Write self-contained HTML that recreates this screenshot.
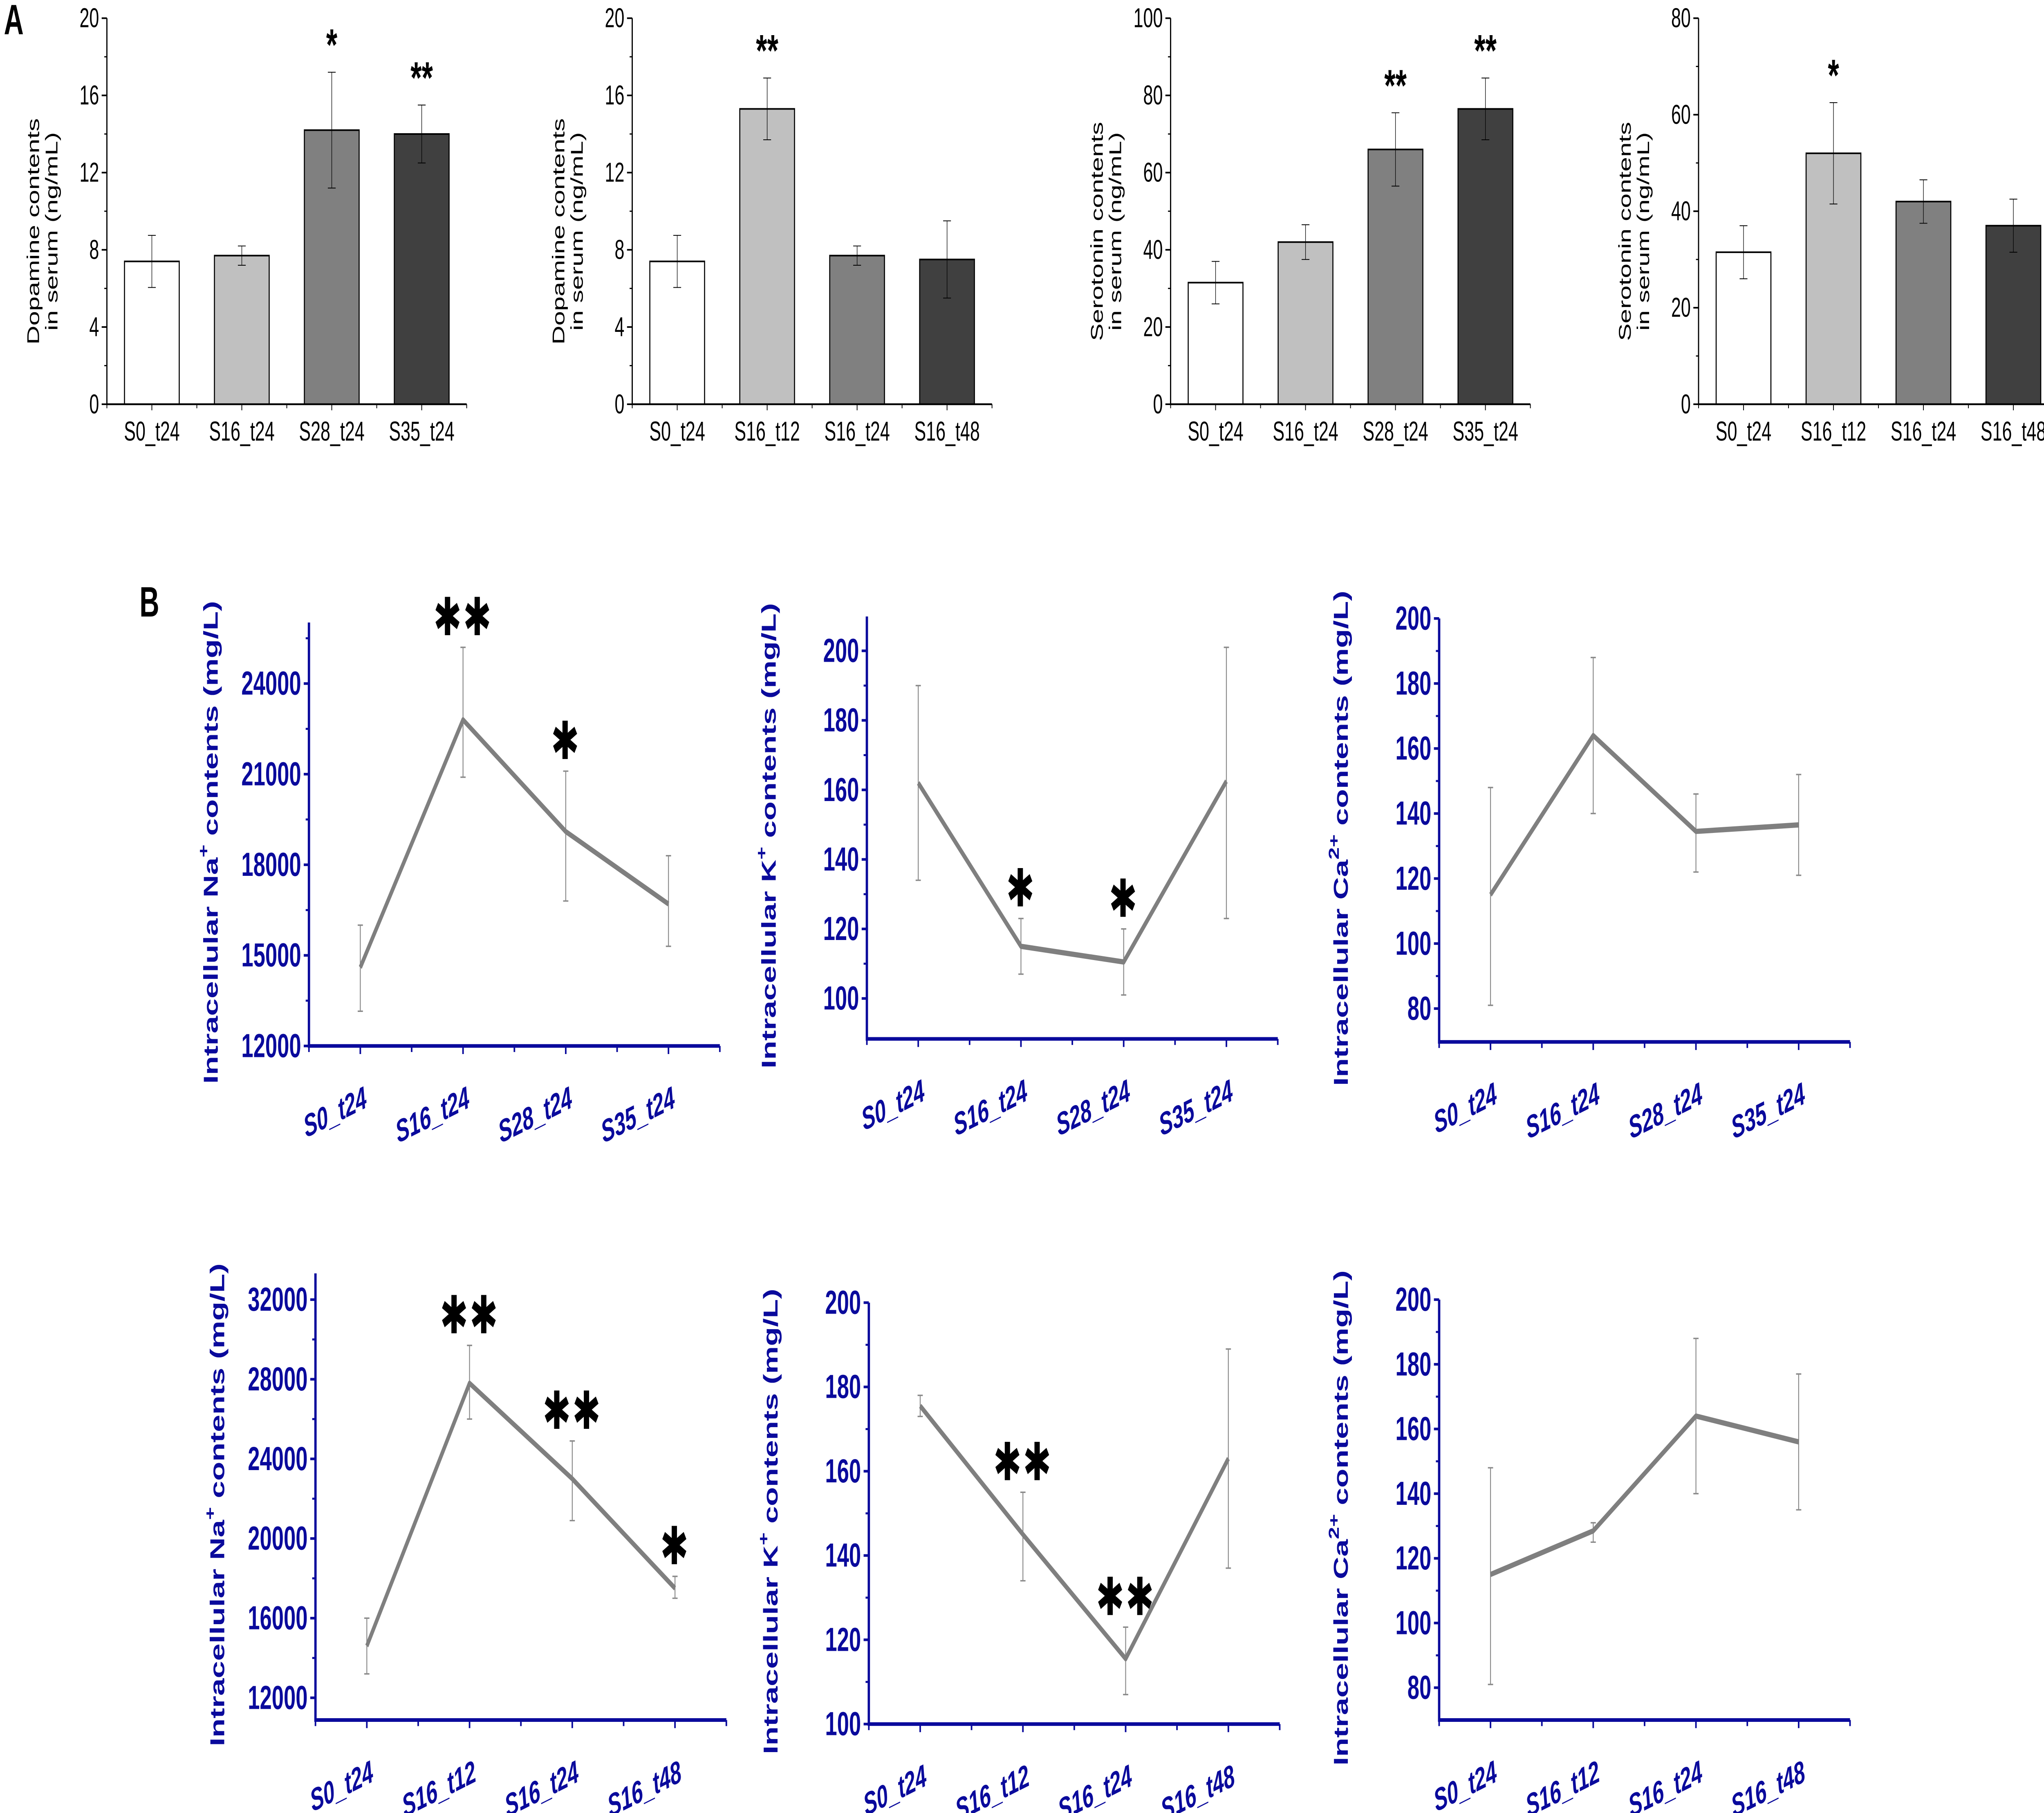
<!DOCTYPE html>
<html><head><meta charset="utf-8"><style>
html,body{margin:0;padding:0;background:#fff;width:100vw;height:100vh;overflow:hidden}
svg{display:block;width:100vw;height:100vh}
text{font-family:"Liberation Sans Narrow","Liberation Sans",sans-serif}
</style></head><body>
<svg id="root" xmlns="http://www.w3.org/2000/svg" viewBox="0 0 1568 897" preserveAspectRatio="none">
<g id="fig">
<rect width="1568" height="897" fill="#fff"/>
<text x="3" y="17" font-size="21" font-weight="bold" style="font-family:'Liberation Sans',sans-serif">A</text>
<text x="107" y="305" font-size="21" font-weight="bold" style="font-family:'Liberation Sans',sans-serif">B</text>
</g>
</svg>
<script>
const NS="http://www.w3.org/2000/svg";
const svg=document.getElementById('fig');
// ---- Panel A data ----
const aCats1=["S0_t24","S16_t24","S28_t24","S35_t24"];
const aCats2=["S0_t24","S16_t12","S16_t24","S16_t48"];
const a1Vals=[7.4,7.7,14.2,14.0];
const a1Errs=[1.35,0.5,3.0,1.5];
const a1Stars=["","","*","**"];
const a2Vals=[7.4,15.3,7.7,7.5];
const a2Errs=[1.35,1.6,0.5,2.0];
const a2Stars=["","**","",""];
const a3Vals=[31.5,42,66,76.5];
const a3Errs=[5.5,4.5,9.5,8];
const a3Stars=["","","**","**"];
const a4Vals=[31.5,52,42,37];
const a4Errs=[5.5,10.5,4.5,5.5];
const a4Stars=["","*","",""];
const aTicks20=[0,4,8,12,16,20];
const aTicks100=[0,20,40,60,80,100];
const aTicks80=[0,20,40,60,80];
const barFills=["#ffffff","#c0c0c0","#808080","#404040"];
// ---- Panel B data ----
const bCats1=["S0_t24","S16_t24","S28_t24","S35_t24"];
const bCats2=["S0_t24","S16_t12","S16_t24","S16_t48"];
const naVals1=[14600,22800,19100,16700];
const naLo1=[13150,20900,16800,15300];
const naHi1=[16000,25200,21100,18300];
const naStars1=["","**","*",""];
const kVals1=[162,115,110.5,162.5];
const kLo1=[134,107,101,123];
const kHi1=[190,123,120,201];
const kStars1=["","*","*",""];
const caVals1=[115,164,134.5,136.5];
const caLo1=[81,140,122,121];
const caHi1=[148,188,146,152];
const naVals2=[14600,27800,23000,17500];
const naLo2=[13200,26000,20900,17000];
const naHi2=[16000,29700,24900,18100];
const naStars2=["","**","**","*"];
const kVals2=[175.5,145,115.5,163];
const kLo2=[173,134,107,137];
const kHi2=[178,155,123,189];
const kStars2=["","**","**",""];
const caVals2=[115,128.5,164,156];
const caLo2=[81,125,140,135];
const caHi2=[148,131,188,177];
const naTicks1=[12000,15000,18000,21000,24000];
const naTicks2=[12000,16000,20000,24000,28000,32000];
const kTicks=[100,120,140,160,180,200];
const caTicks=[80,100,120,140,160,180,200];

function el(tag,attrs,parent,txt){const e=document.createElementNS(NS,tag);for(const k in attrs)e.setAttribute(k,attrs[k]);if(txt!==undefined)e.textContent=txt;(parent||svg).appendChild(e);return e;}

function barPanel(ox,name,ymax,ticks,cats,vals,errs,stars,title1,title2){
  const g=el('g',{},svg);
  
  
  const y0=200,yt=9,slot=69,right=ox+276;
  const ys=v=>y0-(v/ymax)*(y0-yt);
  const xs=i=>ox+slot/2+slot*i;
  cats.forEach((c,i)=>{
    const v=vals[i],e=errs[i];
    const b=el('rect',{x:xs(i)-21,y:ys(v),width:42,height:y0-ys(v),fill:barFills[i],stroke:'#000','stroke-width':0.8},g);
    
    
    const eb=el('path',{d:`M${xs(i)},${ys(v+e)}V${ys(v-e)}M${xs(i)-3},${ys(v+e)}H${xs(i)+3}M${xs(i)-3},${ys(v-e)}H${xs(i)+3}`,stroke:'#000','stroke-width':0.4,fill:'none'},g);
    
    
    const l=el('text',{x:xs(i),y:218,'font-size':13.5,'text-anchor':'middle'},g,c);
    
    
    if(stars[i]){const s=el('text',{x:xs(i),y:ys(v+e)-6,'font-size':22,'font-weight':'bold','text-anchor':'middle',style:"font-family:'Liberation Sans',sans-serif"},g,stars[i]);
      
      }
  });
  el('path',{d:`M${ox},${yt}V${y0}H${right}`,stroke:'#000','stroke-width':0.9,fill:'none'},g);
  ticks.forEach((t,k)=>{
    el('line',{x1:ox-4,x2:ox,y1:ys(t),y2:ys(t),stroke:'#000','stroke-width':0.8},g);
    if(k<ticks.length-1){const m=(t+ticks[k+1])/2;el('line',{x1:ox-2,x2:ox,y1:ys(m),y2:ys(m),stroke:'#000','stroke-width':0.6},g);}
    const tl=el('text',{x:ox-6,y:ys(t)+4.5,'font-size':13.5,'text-anchor':'end'},g,String(t));
    
    
  });
  for(let i=0;i<=8;i++){el('line',{x1:ox+slot/2*i,x2:ox+slot/2*i,y1:y0,y2:y0+(i%2?3:2),stroke:'#000','stroke-width':0.6},g);}
  const cy=(y0+yt)/2+10;
  const t=el('text',{transform:`translate(${ox-52},${cy}) rotate(-90)`,'font-size':13,'text-anchor':'middle',style:"font-family:'Liberation Sans',sans-serif"},g,title1);
  
  
  el('text',{transform:`translate(${ox-38},${cy}) rotate(-90)`,'font-size':13,'text-anchor':'middle',style:"font-family:'Liberation Sans',sans-serif"},g,title2);
}

const BLUE="#0a0a9c";
function linePanel(name,ox,yTop,yBot,vTop,vBot,axTop,ticks,minorStep,cats,vals,lo,hi,stars,ion,sup,axisBottom){
  const g=el('g',{},svg);
  
  
  const slot=78.8,right=ox+slot*4;
  const ys=v=>yBot-(v-vBot)/(vTop-vBot)*(yBot-yTop);
  const xs=i=>ox+slot/2+slot*i;
  cats.forEach((c,i)=>{
    const eb=el('path',{d:`M${xs(i)},${ys(hi[i])}V${ys(lo[i])}M${xs(i)-2},${ys(hi[i])}H${xs(i)+2}M${xs(i)-2},${ys(lo[i])}H${xs(i)+2}`,stroke:'#8a8a8a','stroke-width':0.7,fill:'none'},g);
    
    
  });
  const pts=vals.map((v,i)=>xs(i)+','+ys(v)).join(' ');
  const pl=el('polyline',{points:pts,fill:'none',stroke:'#7f7f7f','stroke-width':2.6,'stroke-linejoin':'round'},g);
  
  
  cats.forEach((c,i)=>{
    if(stars[i]){const s=el('text',{x:xs(i),y:ys(hi[i])-6,'font-size':26,'font-weight':'bold','text-anchor':'middle','letter-spacing':'1',style:"font-family:'DejaVu Sans',sans-serif"},g,stars[i].replace(/\*/g,'✱'));
      
      }
    const l=el('text',{transform:`translate(${xs(i)+6},${axisBottom+30}) rotate(-18)`,'font-size':15.5,'font-weight':'bold','font-style':'italic','text-anchor':'end',fill:BLUE},g,c);
    
    
  });
  el('path',{d:`M${ox},${axTop}V${axisBottom}H${right}`,stroke:BLUE,'stroke-width':1.8,fill:'none'},g);
  ticks.forEach(t=>{
    el('line',{x1:ox-4,x2:ox,y1:ys(t),y2:ys(t),stroke:BLUE,'stroke-width':1.3},g);
    const tl=el('text',{x:ox-6,y:ys(t)+5.5,'font-size':16.5,'font-weight':'bold','text-anchor':'end',fill:BLUE},g,String(t));
    
    
  });
  for(let v=ticks[0]+minorStep;ys(v)>=axTop;v+=minorStep*2){el('line',{x1:ox-2.5,x2:ox,y1:ys(v),y2:ys(v),stroke:BLUE,'stroke-width':1},g);}
  for(let i=0;i<=8;i++){el('line',{x1:ox+slot/2*i,x2:ox+slot/2*i,y1:axisBottom,y2:axisBottom+(i%2?4:3),stroke:BLUE,'stroke-width':1.2},g);}
  const cy=(axTop+axisBottom)/2+4;
  const t=el('text',{transform:`translate(${ox-70},${cy}) rotate(-90)`,'font-size':15.5,'font-weight':'bold','text-anchor':'middle',fill:BLUE,style:"font-family:'Liberation Sans',sans-serif"},g);
  
  
  el('tspan',{},t,'Intracellular '+ion);
  el('tspan',{dy:-7,'font-size':11},t,sup);
  el('tspan',{dy:7},t,' contents (mg/L)');
}

barPanel(82,'dopamine-chart-1',20,aTicks20,aCats1,a1Vals,a1Errs,a1Stars,'Dopamine contents','in serum (ng/mL)');
barPanel(485,'dopamine-chart-2',20,aTicks20,aCats2,a2Vals,a2Errs,a2Stars,'Dopamine contents','in serum (ng/mL)');
barPanel(898,'serotonin-chart-1',100,aTicks100,aCats1,a3Vals,a3Errs,a3Stars,'Serotonin contents','in serum (ng/mL)');
barPanel(1303,'serotonin-chart-2',80,aTicks80,aCats2,a4Vals,a4Errs,a4Stars,'Serotonin contents','in serum (ng/mL)');

linePanel('sodium-chart-1',237,338.2,517.5,24000,12000,308,naTicks1,1500,bCats1,naVals1,naLo1,naHi1,naStars1,'Na','+',517.5);
linePanel('potassium-chart-1',665,322,494,200,100,305,kTicks,10,bCats1,kVals1,kLo1,kHi1,kStars1,'K','+',514);
linePanel('calcium-chart-1',1104,306,499,200,80,306,caTicks,10,bCats1,caVals1,caLo1,caHi1,["","","",""],'Ca','2+',515.5);
linePanel('sodium-chart-2',242,643,840,32000,12000,630,naTicks2,2000,bCats2,naVals2,naLo2,naHi2,naStars2,'Na','+',851);
linePanel('potassium-chart-2',666.5,644.5,853,200,100,644.5,kTicks,10,bCats2,kVals2,kLo2,kHi2,kStars2,'K','+',853);
linePanel('calcium-chart-2',1104,643,835,200,80,643,caTicks,10,bCats2,caVals2,caLo2,caHi2,["","","",""],'Ca','2+',851);
</script>
</body></html>
